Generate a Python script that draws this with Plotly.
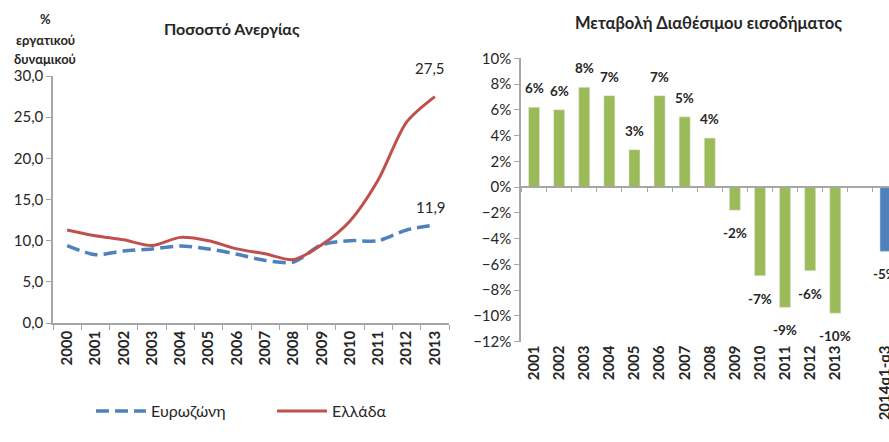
import plotly.graph_objects as go

# ---- data ----
years = [str(y) for y in range(2000, 2014)]
eurozone = [9.4, 8.3, 8.75, 9.0, 9.35, 9.0, 8.35, 7.6, 7.4, 9.5, 10.0, 10.0, 11.3, 11.9]
greece = [11.3, 10.6, 10.1, 9.4, 10.4, 10.0, 9.0, 8.4, 7.7, 9.5, 12.4, 17.4, 24.4, 27.5]

income_cats = [str(y) for y in range(2001, 2014)] + [" ", "2014q1-q3"]
income_green = [6.2, 6.0, 7.75, 7.1, 2.9, 7.1, 5.45, 3.8, -1.8, -6.9, -9.35, -6.5, -9.8, None, None]
income_blue = [None] * 14 + [-5.0]

GREEN = "#9BBB59"
BLUE = "#4F81BD"
RED = "#C0504D"
AXIS = "#A6A6A6"
TXT = "#262626"
FONT = "Lato, Open Sans, sans-serif"

fig = go.Figure()

fig.add_trace(go.Scatter(
    x=years, y=eurozone, name="Ευρωζώνη", mode="lines",
    line=dict(color=BLUE, width=3.5, dash="13px,6px", shape="spline", smoothing=0.8),
    xaxis="x", yaxis="y"))
fig.add_trace(go.Scatter(
    x=years, y=greece, name="Ελλάδα", mode="lines",
    line=dict(color=RED, width=3, shape="spline", smoothing=0.8),
    xaxis="x", yaxis="y"))

fig.add_trace(go.Bar(
    x=income_cats, y=income_green, marker_color=GREEN, width=0.44,
    showlegend=False, xaxis="x2", yaxis="y2", hoverinfo="skip"))
fig.add_trace(go.Bar(
    x=income_cats, y=income_blue, marker_color=BLUE, width=0.44,
    showlegend=False, xaxis="x2", yaxis="y2", hoverinfo="skip"))
# invisible trace so the zero-crossing axis gets drawn
fig.add_trace(go.Scatter(
    x=income_cats, y=[0] * len(income_cats), mode="markers",
    marker=dict(opacity=0), showlegend=False, xaxis="x3", yaxis="y2", hoverinfo="skip"))

annotations = []
# bar labels (category index used as x position)
for i, (g, b) in enumerate(zip(income_green, income_blue)):
    v = g if g is not None else b
    if v is None:
        continue
    annotations.append(dict(
        x=i, y=v, xref="x2", yref="y2", text=f"{round(v):.0f}%",
        showarrow=False, xanchor="center", yanchor="middle",
        yshift=19 if v > 0 else -23,
        font=dict(family=FONT, size=13.5, color=TXT, weight="bold")))

# line end labels
last = len(years) - 1
annotations.append(dict(x=last, y=greece[-1], xref="x", yref="y",
                        text=f"{greece[-1]:.1f}".replace(".", ","), showarrow=False,
                        xanchor="center", yanchor="middle", yshift=29, xshift=-5,
                        font=dict(family=FONT, size=15, color=TXT)))
annotations.append(dict(x=last, y=eurozone[-1], xref="x", yref="y",
                        text=f"{eurozone[-1]:.1f}".replace(".", ","), showarrow=False,
                        xanchor="center", yanchor="middle", yshift=18, xshift=-4,
                        font=dict(family=FONT, size=15, color=TXT)))

# titles
annotations.append(dict(x=232 / 889, y=1 - 28 / 442, xref="paper", yref="paper",
                        xanchor="center", yanchor="middle",
                        text="Ποσοστό Ανεργίας", showarrow=False,
                        font=dict(family=FONT, size=16, color=TXT, weight="bold")))
annotations.append(dict(x=708 / 889, y=1 - 23 / 442, xref="paper", yref="paper",
                        xanchor="center", yanchor="middle",
                        text="Μεταβολή Διαθέσιμου εισοδήματος", showarrow=False,
                        font=dict(family=FONT, size=16.5, color=TXT, weight="bold")))
for txt, yy in [("%", 19), ("εργατικού", 40), ("δυναμικού", 59)]:
    annotations.append(dict(x=45 / 889, y=1 - yy / 442, xref="paper", yref="paper",
                            xanchor="center", yanchor="middle",
                            text=txt, showarrow=False,
                            font=dict(family=FONT, size=13, color=TXT, weight="bold")))

fig.update_layout(
    width=889, height=442,
    margin=dict(l=0, r=0, t=0, b=0, autoexpand=False),
    paper_bgcolor="white", plot_bgcolor="white",
    separators=",.",
    font=dict(family=FONT, size=12, color=TXT),
    barmode="overlay",
    showlegend=True,
    legend=dict(orientation="h", x=91 / 889, y=1 - 411 / 442, xanchor="left", yanchor="middle",
                font=dict(family=FONT, size=16, color=TXT), itemwidth=50,
                entrywidth=116, entrywidthmode="pixels",
                bgcolor="rgba(0,0,0,0)"),
    annotations=annotations,
    xaxis=dict(domain=[53 / 889, 449 / 889], type="category", range=[-0.5, 13.5],
               showline=True, linecolor=AXIS, linewidth=1.5,
               ticks="outside", tickson="boundaries", ticklen=5, tickcolor=AXIS,
               tickangle=-90, showgrid=False, zeroline=False, anchor="y",
               tickfont=dict(family=FONT, size=15, color=TXT, weight="bold")),
    yaxis=dict(domain=[1 - 323 / 442, 1 - 76 / 442], range=[0, 30], dtick=5,
               tickformat=".1f", showline=True, linecolor=AXIS, linewidth=1.5,
               ticks="outside", ticklen=5, tickcolor=AXIS, showgrid=False,
               zeroline=False, anchor="x",
               tickfont=dict(family=FONT, size=15, color=TXT)),
    xaxis2=dict(domain=[521 / 889, 1.0], type="category", range=[-0.52, 14.14],
                categoryorder="array", categoryarray=income_cats,
                showline=False, ticks="", tickangle=-90, showgrid=False,
                zeroline=False, anchor="y2",
                tickfont=dict(family=FONT, size=15, color=TXT, weight="bold")),
    xaxis3=dict(overlaying="x2", type="category", range=[-0.52, 14.14],
                categoryorder="array", categoryarray=income_cats,
                anchor="free", position=1 - 186.7 / 442,
                showline=True, linecolor=AXIS, linewidth=1.5,
                ticks="outside", tickson="boundaries", ticklen=5, tickcolor=AXIS,
                showticklabels=False, showgrid=False, zeroline=False),
    yaxis2=dict(domain=[1 - 341.5 / 442, 1 - 58.3 / 442], range=[-12, 10], dtick=2,
                ticksuffix="%", showline=True, linecolor=AXIS, linewidth=1.5,
                ticks="outside", ticklen=5, tickcolor=AXIS, showgrid=False,
                zeroline=False, anchor="x2",
                tickfont=dict(family=FONT, size=15, color=TXT)),
)

fig.write_html("out.html", config={"displayModeBar": False},
               post_script="document.body.style.margin='0';")
